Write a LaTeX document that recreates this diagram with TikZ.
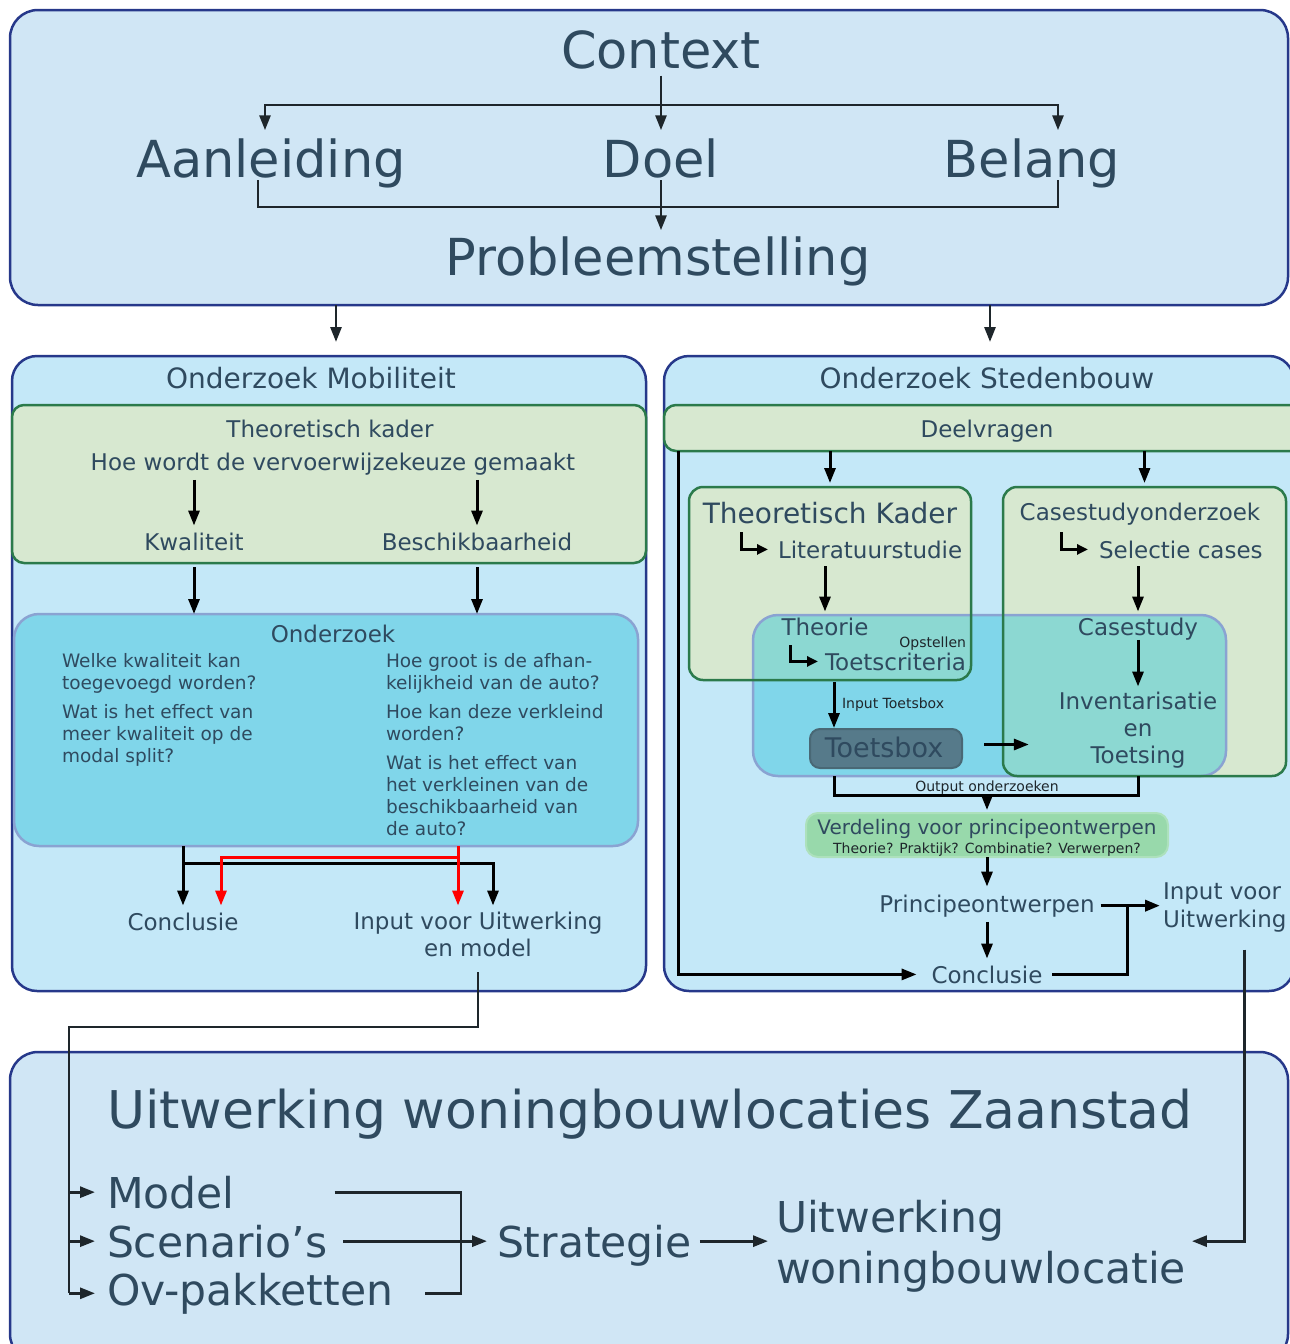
\documentclass[tikz,border=0pt]{standalone}
\usepackage{fontspec}
\setmainfont{DejaVu Sans}
\usepackage{xcolor}
\usetikzlibrary{arrows.meta}

\definecolor{ink}{HTML}{2F4A5F}
\definecolor{dark}{HTML}{1E262B}
\definecolor{frame}{HTML}{26388A}
\definecolor{pale}{HTML}{D0E6F5}
\definecolor{sky}{HTML}{C4E8F8}
\definecolor{sage}{HTML}{D7E8D0}
\definecolor{leaf}{HTML}{2B7A4B}
\definecolor{cyanfill}{HTML}{80D6EA}
\definecolor{cyanedge}{HTML}{8AA3D2}
\definecolor{mix}{HTML}{8CD8D2}
\definecolor{slate}{HTML}{567A8A}
\definecolor{mint}{HTML}{98D9AB}

\begin{document}
\begin{tikzpicture}[
  x=1pt, y=-1pt,
  panel/.style={draw=frame, line width=2.5pt, rounded corners=28pt, anchor=north west, inner sep=0pt, outer sep=0pt},
  greenbox/.style={fill=sage, rounded corners=14pt, anchor=north west, inner sep=0pt, outer sep=0pt},
  big/.style={font=\fontsize{51}{60}\selectfont, text=ink, anchor=base, inner sep=0pt, outer sep=0pt},
  hd/.style={font=\fontsize{28}{32}\selectfont, text=ink, anchor=base, inner sep=0pt, outer sep=0pt},
  mid/.style={font=\fontsize{23}{27}\selectfont, text=ink, anchor=base, inner sep=0pt, outer sep=0pt},
  qs/.style={font=\fontsize{18.5}{22}\selectfont, text=ink, align=left, anchor=north west, inner sep=0pt, outer sep=0pt},
  tiny/.style={font=\fontsize{14}{16}\selectfont, text=dark, anchor=base, inner sep=0pt, outer sep=0pt},
  lg/.style={font=\fontsize{42.5}{51}\selectfont, text=ink, anchor=base west, inner sep=0pt, outer sep=0pt},
  wire/.style={line width=3pt},
  arr/.style={line width=3pt, -{Triangle[length=15pt,width=11pt]}},
  greyline/.style={line width=2.8pt, draw=dark},
  redarr/.style={arr, draw=red},
  bent/.style={line width=3pt, -{Triangle[length=11pt,width=10pt]}}
]
\useasboundingbox (0,0) rectangle (1290,1344);

\node[panel, fill=pale, minimum width=1278pt, minimum height=295pt] (ctx) at (10,10) {};
\node[panel, fill=sky, rounded corners=25pt, minimum width=634pt, minimum height=635pt] (mob) at (12,356) {};
\node[panel, fill=sky, rounded corners=25pt, minimum width=630pt, minimum height=635pt] (sted) at (664,356) {};
\node[panel, fill=pale, minimum width=1278pt, minimum height=310pt] (uitwerk) at (10,1052) {};

\node[greenbox, draw=leaf, line width=2.5pt, rounded corners=12pt, minimum width=634pt, minimum height=158pt] (tkm) at (12,405) {};
\node[panel, fill=cyanfill, draw=cyanedge, rounded corners=25pt, minimum width=624pt, minimum height=232pt] (onz) at (14,614) {};
\node[greenbox, draw=leaf, line width=2.5pt, rounded corners=12pt, minimum width=640pt, minimum height=46pt] (deel) at (664,405) {};

\node[greenbox, minimum width=282pt, minimum height=193pt] (tkr) at (689,487) {};
\node[greenbox, minimum width=283pt, minimum height=289pt] (csr) at (1003,487) {};
\node[panel, draw=none, fill=cyanfill, rounded corners=25pt, minimum width=473pt, minimum height=161pt] (ovl) at (753,615) {};
\begin{scope}
  \clip[rounded corners=25pt] (ovl.north west) rectangle (ovl.south east);
  \fill[mix, rounded corners=14pt] (tkr.north west) rectangle (tkr.south east);
  \fill[mix, rounded corners=14pt] (csr.north west) rectangle (csr.south east);
\end{scope}
\draw[cyanedge, line width=2.5pt, rounded corners=25pt] (ovl.north west) rectangle (ovl.south east);
\draw[leaf, line width=2.5pt, rounded corners=14pt] (tkr.north west) rectangle (tkr.south east);
\draw[leaf, line width=2.5pt, rounded corners=14pt] (csr.north west) rectangle (csr.south east);

\node[panel, fill=slate, draw=slate!85!black, line width=2pt, rounded corners=10pt, minimum width=152pt, minimum height=39pt] (tb) at (810,729) {};
\node[font=\fontsize{27}{30}\selectfont, text=ink, anchor=base, inner sep=0pt] (tbt) at (884,757) {Toetsbox};
\node[panel, fill=mint, draw=mint!80!white, line width=2pt, rounded corners=12pt, minimum width=362pt, minimum height=44pt] (verd) at (806,813) {};

\node[big] (ctxt) at (661,68) {Context};
\node[big] (aanl) at (271,177) {Aanleiding};
\node[big] (doel) at (661,177) {Doel};
\node[big] (bel) at (1032,177) {Belang};
\node[big] (prob) at (658,275) {Probleemstelling};
\coordinate (split) at (661,105);

\node[hd] (mobt) at (311,388) {Onderzoek Mobiliteit};
\node[mid] (tkmt) at (330,437) {Theoretisch kader};
\node[mid] (hoe) at (333,470) {Hoe wordt de vervoerwijzekeuze gemaakt};
\node[mid] (kwal) at (194,550) {Kwaliteit};
\node[mid] (besch) at (477,550) {Beschikbaarheid};
\node[mid] (onzt) at (333,642) {Onderzoek};
\node[qs] (qleft) at (62,653) {Welke kwaliteit kan\\toegevoegd worden?\\[7pt]Wat is het effect van\\meer kwaliteit op de\\modal split?};
\node[qs] (qright) at (386,653) {Hoe groot is de afhan-\\kelijkheid van de auto?\\[7pt]Hoe kan deze verkleind\\worden?\\[7pt]Wat is het effect van\\het verkleinen van de\\beschikbaarheid van\\de auto?};
\node[mid] (conm) at (183,930) {Conclusie};
\node[mid, anchor=north, align=center] (inpm) at (478,912.5) {Input voor Uitwerking\\en model};

\node[hd] (stedt) at (987,388) {Onderzoek Stedenbouw};
\node[mid] (deelt) at (987,437) {Deelvragen};
\node[hd] (tkt) at (830,523) {Theoretisch Kader};
\node[mid] (cst0) at (1140,520) {Casestudyonderzoek};
\node[mid, anchor=base west] (lit) at (778,558) {Literatuurstudie};
\node[mid, anchor=base west] (sel) at (1099,558) {Selectie cases};
\node[mid] (theo) at (825,635) {Theorie};
\node[tiny, anchor=base east] (opst) at (966,647) {Opstellen};
\node[mid, anchor=base west] (toetsc) at (825,670) {Toetscriteria};
\node[mid] (cst) at (1138,635) {Casestudy};
\node[mid, anchor=north, align=center] (inv) at (1138,692.5) {Inventarisatie\\en\\Toetsing};
\node[tiny, anchor=base west] (inpt) at (842,708) {Input Toetsbox};
\node[tiny] (outt) at (987,791) {Output onderzoeken};
\node[font=\fontsize{20}{24}\selectfont, text=ink, anchor=base, inner sep=0pt] (verdt) at (987,834) {Verdeling voor principeontwerpen};
\node[tiny] (verds) at (987,853) {Theorie? Praktijk? Combinatie? Verwerpen?};
\node[mid] (prin) at (987,912) {Principeontwerpen};
\node[mid] (cons) at (987,983) {Conclusie};
\node[mid, anchor=north west, align=left, font=\fontsize{23}{28}\selectfont] (inps) at (1163,883) {Input voor\\Uitwerking};

\node[big, anchor=base west, font=\fontsize{52}{60}\selectfont] (uwt) at (107,1128) {Uitwerking woningbouwlocaties Zaanstad};
\node[lg] (model) at (107,1208) {Model};
\node[lg] (scen) at (107,1257) {Scenario’s};
\node[lg] (ovp) at (107,1305) {Ov-pakketten};
\node[lg] (strat) at (497,1257) {Strategie};
\node[lg, anchor=north west, align=left] (uitw) at (776,1200) {Uitwerking\\woningbouwlocatie};

\coordinate (mobIn) at (336,342);
\coordinate (stedIn) at (990,342);
\coordinate (lb) at (678,451);
\coordinate (tbIn) at (834,728);
\coordinate (outj) at (987,795);
\coordinate (bus) at (69,1027);
\coordinate (mj) at (461,1241);

\draw[arr, greyline] (ctxt.south) ++(0,7) -- ([yshift=8pt]doel.north);
\draw[arr, greyline] (split) -| ([xshift=-6pt,yshift=8pt]aanl.north);
\draw[arr, greyline] (split) -| ([xshift=26pt,yshift=8pt]bel.north);
\draw[wire, greyline] ([xshift=-13pt,yshift=-3pt]aanl.base) -- ++(0,27) -| ([xshift=26pt,yshift=-3pt]bel.base);
\draw[arr, greyline] ([yshift=-3pt]doel.base) -- ([yshift=6pt]prob.north -| doel);
\draw[arr, greyline] (ctx.south -| mobIn) -- (mobIn);
\draw[arr, greyline] (ctx.south -| stedIn) -- (stedIn);

\draw[arr] (hoe.south -| kwal) ++(0,5) -- ([yshift=7pt]kwal.north);
\draw[arr] (hoe.south -| besch) ++(0,5) -- ([yshift=7pt]besch.north);
\draw[arr] (kwal.base) ++(0,17) -- (kwal |- onz.north);
\draw[arr] (besch.base) ++(0,17) -- (besch |- onz.north);
\draw[arr] (onz.south -| conm) -- ([yshift=7pt]conm.north);
\draw[arr] (onz.south -| conm) ++(0,17) -| ([xshift=15pt,yshift=7pt]inpm.north);
\draw[redarr] ([xshift=-20pt]inpm.north |- onz.south) -- ([xshift=-20pt,yshift=7pt]inpm.north);
\draw[redarr] ([xshift=-20pt]inpm.north |- onz.south) ++(0,11) -| ([xshift=38pt,yshift=7pt]conm.north);

\draw[arr] (deel.south -| tkr) -- ([yshift=4pt]tkr.north);
\draw[arr] (deel.south -| csr) -- ([yshift=4pt]csr.north);
\draw[arr] (lb) |- ([xshift=-15pt]cons.west);
\draw[bent] ([xshift=-37pt]lit.west) ++(0,-17) |- ([xshift=-10pt]lit.west);
\draw[bent] ([xshift=-38pt]sel.west) ++(0,-17) |- ([xshift=-11pt]sel.west);
\draw[bent] ([xshift=-35pt]toetsc.west) ++(0,-16) |- ([xshift=-7pt]toetsc.west);
\draw[arr] (lit.south -| theo) ++(0,8) -- ([yshift=6pt]theo.north);
\draw[arr] (sel.south -| cst) ++(0,8) -- ([yshift=6pt]cst.north);
\draw[arr] (cst.south) -- ([yshift=6pt]inv.north);
\draw[arr] (toetsc.south -| tbIn) ++(0,12) -- (tbIn);
\draw[arr] ([xshift=22pt,yshift=4pt]tb.east) -- ([xshift=-30pt,yshift=4pt]inv.west |- tb.east);
\draw[wire] (tbIn |- ovl.south) |- (outj) -| (cst |- ovl.south);
\draw[arr] (outj) -- ([yshift=3pt]verd.north);
\draw[arr] (verd.south) -- ([yshift=8pt]prin.north);
\draw[arr] (prin.south) ++(0,5) -- ([yshift=7pt]cons.north);
\draw[arr, line width=3.5pt] ([xshift=6pt]prin.east) -- ([xshift=-3pt]inps.west |- prin.east);
\draw[wire] ([xshift=10pt]cons.east) -| ([xshift=33pt]prin.east);

\draw[wire, greyline] (inpm.south) ++(0,15) |- (bus) -- (bus |- ovp.west);
\draw[arr, greyline] (bus |- model.west) -- ([xshift=-12pt]model.west);
\draw[arr, greyline] (bus |- scen.west) -- ([xshift=-12pt]scen.west);
\draw[arr, greyline] (bus |- ovp.west) -- ([xshift=-12pt]ovp.west);
\draw[wire, greyline] ([xshift=100pt]model.east) -| (mj);
\draw[wire, greyline] ([xshift=32pt]ovp.east) -| (mj);
\draw[arr, greyline] ([xshift=16pt]scen.east) -- ([xshift=-10pt]strat.west |- scen.east);
\draw[arr, greyline] ([xshift=8pt]strat.east |- scen.east) -- ([xshift=-8pt]uitw.west |- scen.east);
\draw[arr, greyline] ([xshift=20pt]inps.south) ++(0,17) |- ([xshift=6pt]uitw.east |- scen.east);
\end{tikzpicture}
\end{document}
